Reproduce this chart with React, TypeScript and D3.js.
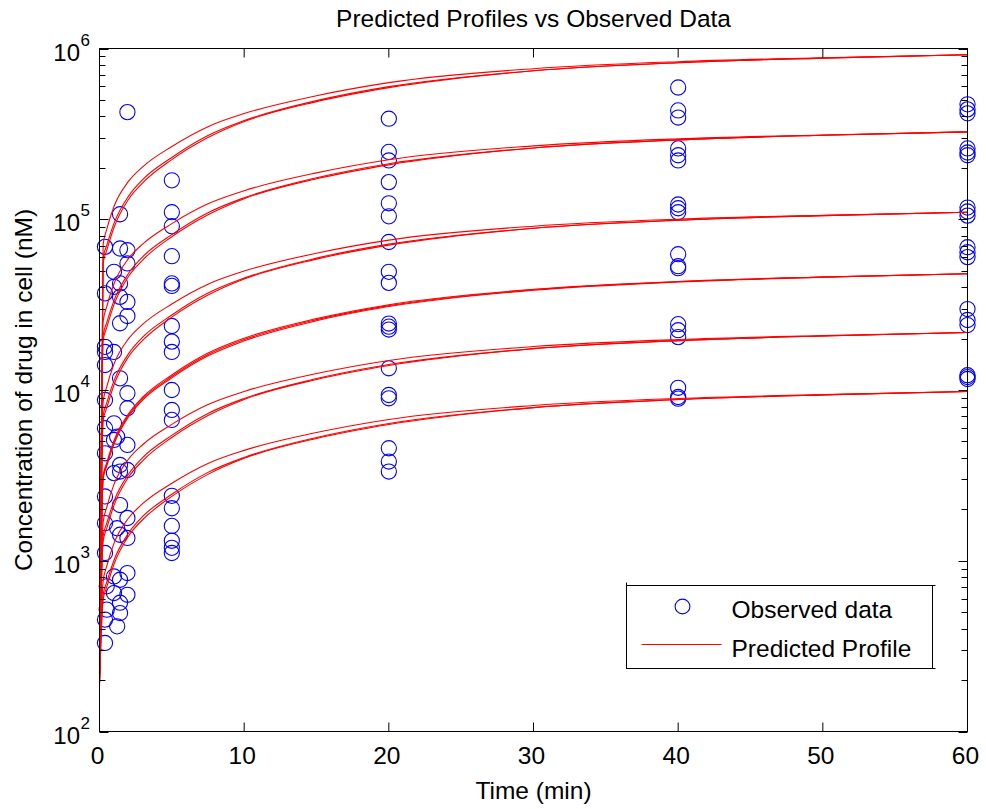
import React from 'react';
import * as d3 from 'd3';

const W = 986;
const H = 809;

const titleText = 'Predicted Profiles vs Observed Data';
const xLabelText = 'Time (min)';
const yLabelText = 'Concentration of drug in cell (nM)';
const legendLabels = ['Observed data', 'Predicted Profile'];

const xTickValues = [0, 10, 20, 30, 40, 50, 60];
const yDecadeExponents = [2, 3, 4, 5, 6];

// time grid of the predicted profiles (min)
const curveTimes = [0, 0.25, 0.5, 1, 2, 3, 5, 7.5, 10, 15, 20, 30, 40, 50, 60];

// predicted profiles, three lines per dose group (nM)
const profileDose1 = [
  [300, 71200, 87200, 118700, 166500, 203300, 266800, 348700, 415800, 529000, 631100, 761800, 837200, 882300, 920000],
  [280, 59000, 70300, 94600, 136200, 171100, 230000, 309100, 378100, 495000, 598000, 740600, 825200, 878600, 920000],
  [270, 55200, 65700, 89500, 130600, 163800, 223600, 300800, 373500, 488500, 589700, 740600, 825200, 878600, 920000],
];
const profileDose2 = [
  [260, 25200, 30800, 41900, 58800, 71800, 94300, 123200, 146900, 186900, 223000, 269100, 295800, 311700, 325000],
  [250, 20800, 24800, 33400, 48100, 60500, 81300, 109200, 133600, 174900, 211300, 261600, 291500, 310400, 325000],
  [240, 19500, 23200, 31600, 46200, 57900, 79000, 106300, 132000, 172600, 208300, 261600, 291500, 310400, 325000],
];
const profileDose3 = [
  [240, 8510, 10430, 14190, 19910, 24310, 31900, 41690, 49720, 63250, 75460, 91080, 100100, 105500, 110000],
  [230, 7050, 8400, 11310, 16280, 20460, 27500, 36960, 45210, 59180, 71500, 88550, 98670, 105050, 110000],
  [220, 6600, 7850, 10700, 15620, 19580, 26730, 35970, 44660, 58410, 70510, 88550, 98670, 105050, 110000],
];
const profileDose4 = [
  [220, 3150, 3750, 5050, 7250, 9100, 12250, 16450, 20100, 26200, 31600, 38900, 43200, 45900, 48000],
  [215, 3077, 3667, 4934, 7104, 8928, 12000, 16130, 19730, 25820, 31200, 38640, 43060, 45840, 48000],
  [210, 3000, 3580, 4820, 6960, 8760, 11780, 15850, 19400, 25450, 30800, 38400, 42900, 45800, 48000],
];
const profileDose5 = [
  [205, 1680, 2057, 2799, 3928, 4796, 6293, 8224, 9808, 12480, 14890, 17970, 19750, 20810, 21700],
  [200, 1391, 1658, 2231, 3212, 4036, 5425, 7291, 8919, 11670, 14110, 17470, 19460, 20720, 21700],
  [195, 1302, 1549, 2111, 3081, 3863, 5273, 7096, 8810, 11520, 13910, 17470, 19460, 20720, 21700],
];
const profileDose6 = [
  [195, 759, 929, 1264, 1774, 2166, 2842, 3714, 4430, 5635, 6723, 8114, 8918, 9398, 9800],
  [190, 628, 749, 1007, 1450, 1823, 2450, 3293, 4028, 5272, 6370, 7889, 8791, 9359, 9800],
  [185, 588, 700, 954, 1392, 1744, 2381, 3205, 3979, 5204, 6282, 7889, 8791, 9359, 9800],
];

// observed data: sampling times (min) and the values measured at each (nM)
const observedTimes = [0.38, 0.5, 1.0, 1.22, 1.42, 1.93, 5, 20, 40, 60];
const observedAt038 = [68900, 36800, 17900, 16700, 14000, 8740, 5970, 4260, 2380, 1660, 1110, 452, 330];
const observedAt05 = [708, 517];
const observedAt1 = [49200, 40200, 16700, 6380, 5100, 3260, 809, 647];
const observedAt122 = [5330, 1550, 413];
const observedAt142 = [107000, 67400, 42100, 35100, 24600, 11700, 3640, 3330, 2120, 1420, 774, 568, 494];
const observedAt193 = [424000, 65900, 55100, 32800, 27100, 9570, 7820, 4770, 3400, 1780, 1360, 847, 632];
const observedAt5 = [169000, 110000, 91000, 60800, 42100, 40700, 23700, 19200, 16700, 10000, 7640, 6680, 2400, 2030, 1600, 1310, 1190, 1110];
const observedAt20 = [388000, 248000, 221000, 165000, 124000, 104000, 73600, 49200, 42400, 24500, 23500, 22600, 13400, 9350, 8940, 4560, 3810, 3330];
const observedAt40 = [591000, 434000, 394000, 260000, 237000, 221000, 122000, 116000, 110000, 62400, 53100, 51700, 24300, 22400, 20400, 10300, 9100, 8900];
const observedAt60 = [471000, 440000, 417000, 260000, 246000, 237000, 117000, 111000, 105000, 68600, 64100, 60000, 29800, 25700, 24000, 12200, 11900, 11600];

const observedColumns = [
  observedAt038, observedAt05, observedAt1, observedAt122, observedAt142,
  observedAt193, observedAt5, observedAt20, observedAt40, observedAt60,
];
const profileGroups = [profileDose1, profileDose2, profileDose3, profileDose4, profileDose5, profileDose6];

const FONT = "'Liberation Sans', Arial, Helvetica, sans-serif";
const RED = '#ff0000';
const BLUE = '#0000ff';

export default function App() {
  const left = 99.5;
  const right = 967.5;
  const top = 48.5;
  const bottom = 731.5;

  const x = d3.scaleLinear().domain([0, 60]).range([left, right]);
  const y = d3.scaleLog().domain([1e2, 1e6]).range([bottom, top]);

  const line = d3
    .line<[number, number]>()
    .x((d) => x(d[0]))
    .y((d) => y(d[1]))
    .curve(d3.curveMonotoneX);

  const yTicks = y.ticks();
  const isMajor = (v: number) => Math.abs(Math.log10(v) - Math.round(Math.log10(v))) < 1e-9;

  const points: { t: number; v: number }[] = [];
  observedColumns.forEach((col, i) => col.forEach((v) => points.push({ t: observedTimes[i], v })));

  const paths: string[] = [];
  profileGroups.forEach((g) =>
    g.forEach((vals) => {
      const d = line(vals.map((v, i) => [curveTimes[i], v] as [number, number]));
      if (d) paths.push(d);
    })
  );

  const fs = 24.5;
  const majorLen = 9;
  const minorLen = 6;

  // legend geometry
  const lgX0 = 626.5;
  const lgX1 = 932.5;
  const lgY0 = 585.5;
  const lgY1 = 668.5;

  return (
    <svg
      width={W}
      height={H}
      style={{ position: 'absolute', left: 0, top: 0, background: '#ffffff' }}
      fontFamily={FONT}
    >
      <rect x={0} y={0} width={W} height={H} fill="#ffffff" />
      <rect x={left} y={top} width={right - left} height={bottom - top} fill="#ffffff" />

      {/* observed data */}
      <g fill="none" stroke={BLUE} strokeWidth={1.1}>
        {points.map((p, i) => (
          <circle key={i} cx={x(p.t)} cy={y(p.v)} r={7.6} />
        ))}
      </g>

      {/* predicted profiles */}
      <g fill="none" stroke={RED} strokeWidth={1.1}>
        {paths.map((d, i) => (
          <path key={i} d={d} />
        ))}
      </g>

      {/* axes box */}
      <rect x={left} y={top} width={right - left} height={bottom - top} fill="none" stroke="#000" strokeWidth={1} />

      {/* x ticks (bottom and top) */}
      <g stroke="#000" strokeWidth={1}>
        {xTickValues.map((t) => (
          <g key={t}>
            <line x1={x(t)} x2={x(t)} y1={bottom} y2={bottom - majorLen} />
            <line x1={x(t)} x2={x(t)} y1={top} y2={top + majorLen} />
          </g>
        ))}
      </g>

      {/* y ticks (left and right) */}
      <g stroke="#000" strokeWidth={1}>
        {yTicks.map((v, i) => {
          const len = isMajor(v) ? majorLen : minorLen;
          const yy = Math.round(y(v)) + 0.5;
          return (
            <g key={i}>
              <line x1={left} x2={left + len} y1={yy} y2={yy} />
              <line x1={right} x2={right - len} y1={yy} y2={yy} />
            </g>
          );
        })}
      </g>

      {/* x tick labels */}
      <g fontSize={fs} fill="#000" textAnchor="middle">
        {xTickValues.map((t) => (
          <text key={t} x={x(t) - 2} y={764}>
            {t}
          </text>
        ))}
      </g>

      {/* y tick labels */}
      <g fill="#000">
        {yDecadeExponents.map((e) => {
          const yy = y(Math.pow(10, e));
          return (
            <g key={e}>
              <text x={80} y={yy + 12} fontSize={24} textAnchor="end">
                10
              </text>
              <text x={80.5} y={yy - 3} fontSize={17}>
                {e}
              </text>
            </g>
          );
        })}
      </g>

      {/* title and axis labels */}
      <text x={(left + right) / 2} y={27} fontSize={fs} textAnchor="middle" fill="#000">
        {titleText}
      </text>
      <text x={(left + right) / 2} y={799} fontSize={fs} textAnchor="middle" fill="#000">
        {xLabelText}
      </text>
      <text
        transform={`translate(32, ${(top + bottom) / 2}) rotate(-90)`}
        fontSize={fs}
        textAnchor="middle"
        fill="#000"
      >
        {yLabelText}
      </text>

      {/* legend */}
      <g>
        <rect x={lgX0} y={lgY0} width={lgX1 - lgX0} height={lgY1 - lgY0} fill="#ffffff" stroke="#000" strokeWidth={1} />
        <g stroke="#000" strokeWidth={1}>
          <line x1={lgX0} x2={lgX0} y1={lgY0 - 3} y2={lgY0} />
          <line x1={lgX1} x2={lgX1 + 3} y1={lgY0} y2={lgY0} />
          <line x1={lgX1} x2={lgX1 + 3} y1={lgY1} y2={lgY1} />
        </g>
        <circle cx={682.5} cy={606.5} r={7.4} fill="none" stroke={BLUE} strokeWidth={1.1} />
        <line x1={641.5} x2={721.5} y1={644.5} y2={644.5} stroke={RED} strokeWidth={1.1} />
        <text x={731.5} y={617.5} fontSize={fs} fill="#000">
          {legendLabels[0]}
        </text>
        <text x={731.5} y={656.5} fontSize={fs} fill="#000">
          {legendLabels[1]}
        </text>
      </g>
    </svg>
  );
}
